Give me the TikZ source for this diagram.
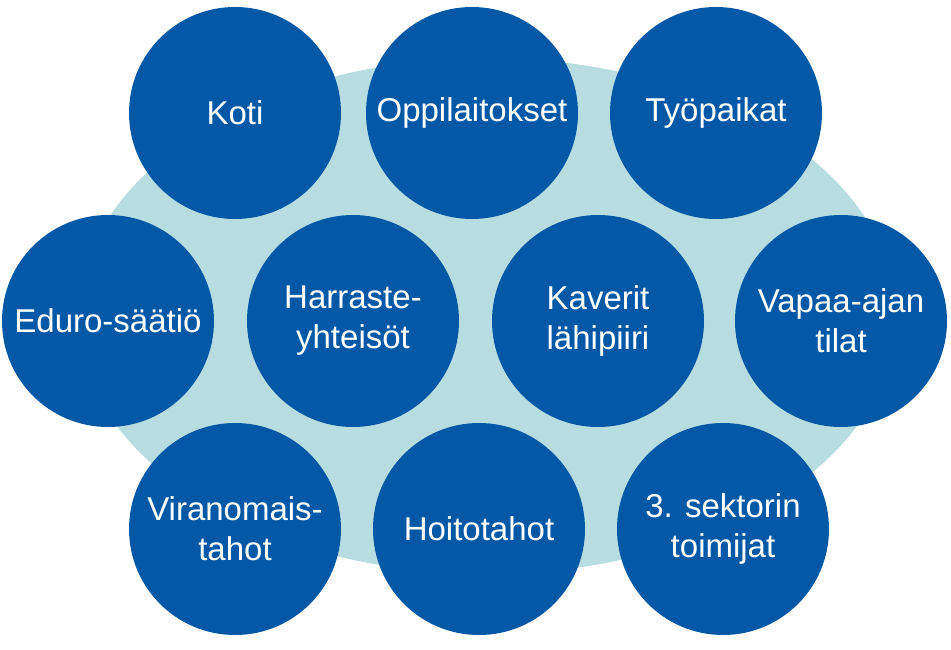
\documentclass[tikz,border=0pt]{standalone}
\usepackage{fontspec}
\setmainfont{Liberation Sans}
\definecolor{darkblue}{RGB}{4,88,166}
\definecolor{lightteal}{RGB}{184,221,225}
\begin{document}
\begin{tikzpicture}[x=1pt,y=-1pt,
  bubble/.style={circle,fill=darkblue,minimum size=212pt,inner sep=0pt,
    text=white,align=center,font=\fontsize{33}{40}\selectfont}]
\useasboundingbox (0,0) rectangle (951,649);
\fill[lightteal] (487,316) ellipse [x radius=409, y radius=258];
\node[bubble] (koti) at (235,113) {Koti};
\node[bubble] (oppi) at (472,113) {Oppilaitokset};
\node[bubble] (tyo) at (716,113) {Työpaikat};
\node[bubble] (eduro) at (108,321) {Eduro-säätiö};
\node[bubble] (harr) at (353,321) {Harraste-\\yhteisöt};
\node[bubble] (kav) at (598,321) {Kaverit\\lähipiiri};
\node[bubble] (vapaa) at (841,321) {Vapaa-ajan\\tilat};
\node[bubble] (viran) at (235,529) {Viranomais-\\tahot};
\node[bubble] (hoito) at (479,529) {Hoitotahot};
\node[bubble] (sekt) at (723,529) {3. sektorin\\toimijat};
\end{tikzpicture}
\end{document}
